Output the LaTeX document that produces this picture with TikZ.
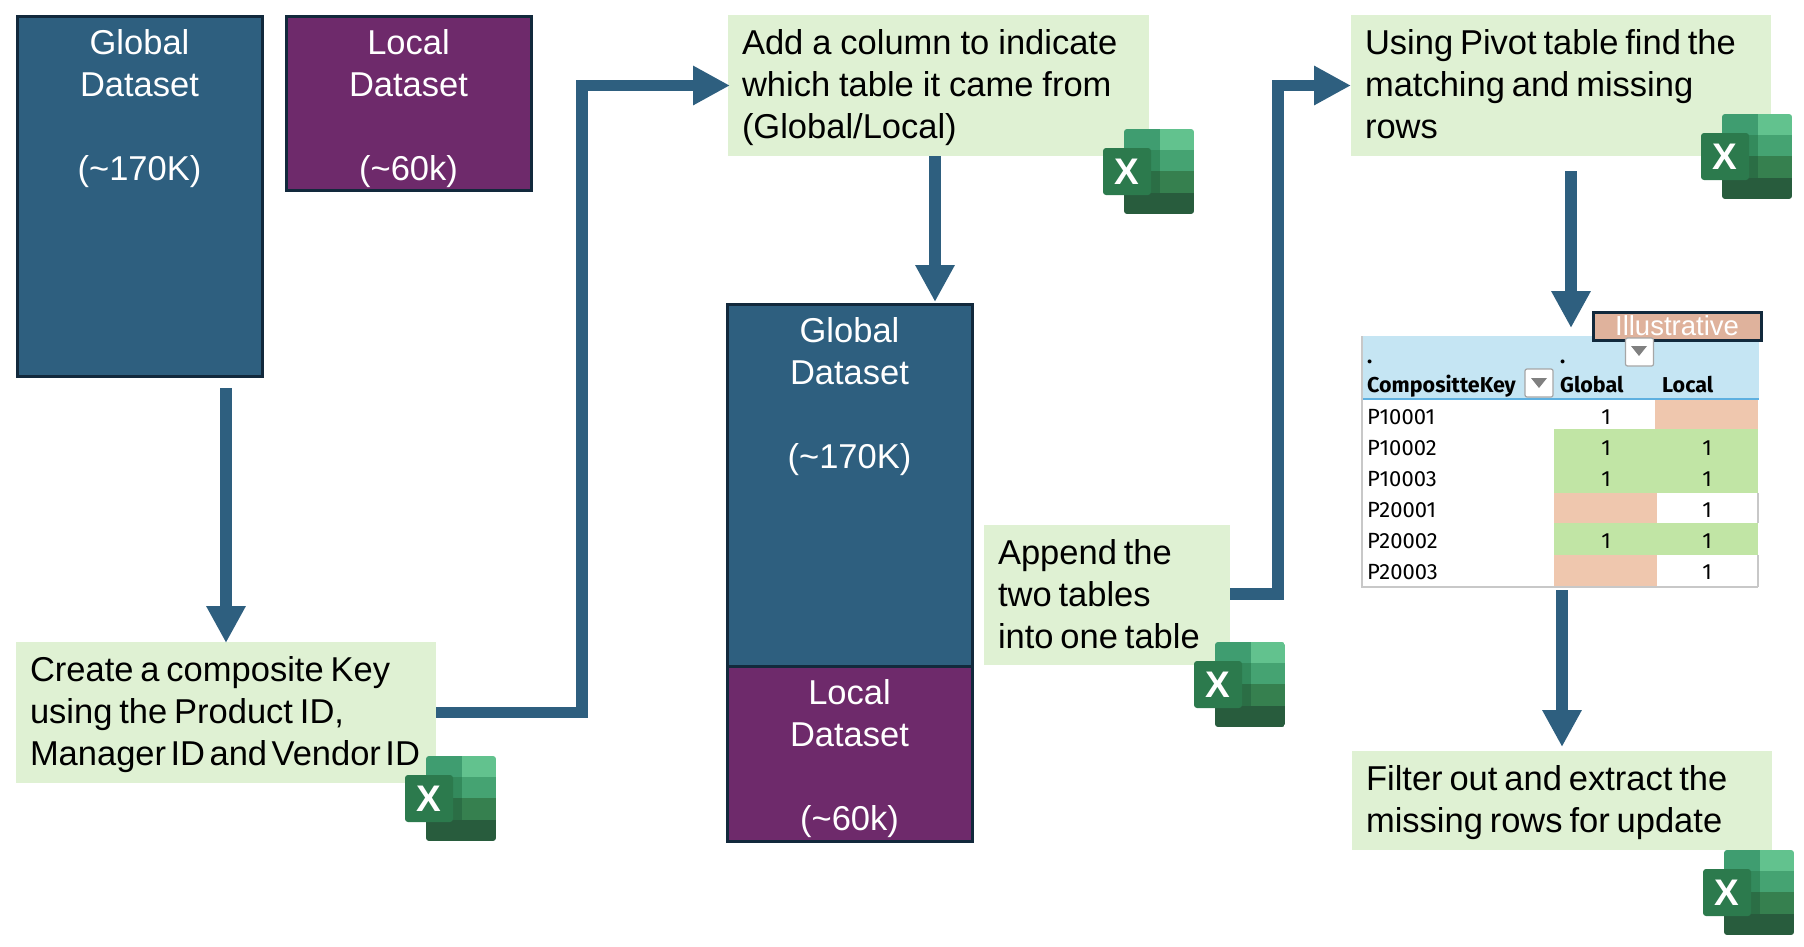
\documentclass[tikz,border=0pt]{standalone}
\usepackage{fontspec}
\setmainfont{Liberation Sans}
\newfontfamily\tblfont{Fira Sans}
\usetikzlibrary{arrows.meta,calc}
\definecolor{dsblue}{HTML}{2E5F7F}
\definecolor{dspurple}{HTML}{6E2A6B}
\definecolor{dsedge}{HTML}{12293C}
\definecolor{stepgreen}{HTML}{DFF1D3}
\definecolor{arrowblue}{HTML}{2E5F7F}
\definecolor{hdrblue}{HTML}{C5E5F3}
\definecolor{hdrline}{HTML}{5EB0E0}
\definecolor{okgreen}{HTML}{C1E5A5}
\definecolor{misspeach}{HTML}{EFC7AE}
\definecolor{illus}{HTML}{DFB29C}
\definecolor{tblgrey}{HTML}{C8C8C8}
\definecolor{xA}{HTML}{3F9D70}\definecolor{xB}{HTML}{62C28E}
\definecolor{xC}{HTML}{338A5C}\definecolor{xD}{HTML}{45A372}
\definecolor{xE}{HTML}{2B6E45}\definecolor{xF}{HTML}{36804F}
\definecolor{xG}{HTML}{285C3D}\definecolor{xH}{HTML}{2C7A4D}
\newcommand{\toptext}[3]{\parbox[c][#1pt][t]{#2pt}{\vspace*{11pt}\centering\fontsize{34.5}{42}\selectfont\color{white}#3\par}}
\newcommand{\xlicon}[3]{%
\begin{scope}[shift={(#2,#3)}]
 \begin{scope}
  \clip[rounded corners=3pt] (21,0) rectangle (91,85);
  \fill[xA] (21,0) rectangle (57,21); \fill[xB] (57,0) rectangle (91,21);
  \fill[xC] (21,21) rectangle (57,42); \fill[xD] (57,21) rectangle (91,42);
  \fill[xE] (21,42) rectangle (57,64); \fill[xF] (57,42) rectangle (91,64);
  \fill[xG] (21,64) rectangle (91,85);
 \end{scope}
 \fill[xH,rounded corners=3pt] (0,19) rectangle (48,66);
 \node[xlmark] (#1) at (24,43) {X};
\end{scope}}
\tikzset{
 x=1pt,y=-1pt,
 xlmark/.style={text=white,font=\fontsize{37}{37}\selectfont\bfseries,inner sep=0pt},
 dataset/.style={draw=dsedge,line width=3pt,inner sep=0pt,outer sep=0pt,anchor=north west},
 stepbox/.style={fill=stepgreen,inner xsep=14pt,inner ysep=0pt,outer sep=0pt,align=left,anchor=north west,font=\fontsize{34.5}{42}\selectfont,
   execute at begin node={\spaceskip=.2em\rule{0pt}{32pt}},execute at end node={\rule[-10pt]{0pt}{10pt}}},
 flow/.style={draw=arrowblue,line width=11.5pt,-{Triangle[width=37pt,length=37pt]}},
 cell/.style={font=\tblfont\fontsize{22}{22}\selectfont,inner sep=0pt,anchor=base west},
 num/.style={font=\tblfont\fontsize{22}{22}\selectfont,inner sep=0pt,anchor=base},
 head/.style={font=\tblfont\bfseries\fontsize{21.5}{21.5}\selectfont,inner sep=0pt,anchor=base west},
 btn/.style={draw=gray!70,fill=white,line width=1.2pt,rounded corners=2pt,minimum width=28pt,minimum height=28pt,inner sep=0pt},
}
\begin{document}
\begin{tikzpicture}
\useasboundingbox (0,0) rectangle (1804,946);
% datasets
\node[dataset,fill=dsblue,minimum width=245pt,minimum height=360pt] (g1) at (17,16) {\toptext{356}{240}{Global\\Dataset\\[42pt](\textasciitilde170K)}};
\node[dataset,fill=dspurple,minimum width=245pt,minimum height=174pt] (l1) at (286,16) {\toptext{170}{240}{Local\\Dataset\\[42pt](\textasciitilde60k)}};
\node[dataset,fill=dsblue,minimum width=245pt,minimum height=362pt] (g2) at (727,304) {\toptext{358}{240}{Global\\Dataset\\[42pt](\textasciitilde170K)}};
\node[dataset,fill=dspurple,minimum width=245pt,minimum height=175pt] (l2) at (727,666) {\toptext{171}{240}{Local\\Dataset\\[42pt](\textasciitilde60k)}};
% steps
\node[stepbox,text width=392pt,minimum height=141pt] (s1) at (16,642) {Create a composite Key\\using the Product ID,\\\mbox{\spaceskip=.13em Manager ID and Vendor ID}};
\node[stepbox,text width=393pt,minimum height=141pt] (s2) at (728,15) {\spaceskip=.26em Add a column to indicate\\which table it came from\\(Global/Local)};
\node[stepbox,text width=218pt,minimum height=140pt] (s3) at (984,525) {Append the\\two tables\\into one table};
\node[stepbox,text width=392pt,minimum height=141pt] (s4) at (1351,15) {Using Pivot table find the\\matching and missing\\rows};
\node[stepbox,text width=392pt,minimum height=99pt] (s5) at (1352,751) {Filter out and extract the\\missing rows for update};
% free ends
\coordinate (a1s) at (226,388); \coordinate (a1e) at (226,643);
\coordinate (a3e) at (935,302);
\coordinate (a4b) at (1278,594);
\coordinate (a5s) at (1571,171); \coordinate (a5e) at (1571,328);
\coordinate (a6s) at (1562,590); \coordinate (a6e) at (1562,747);
% table
\fill[hdrblue] (1361,336) rectangle (1759,399);
\fill[misspeach] (1655,399) rectangle (1758,429);
\fill[okgreen] (1554,429) rectangle (1758,493);
\fill[misspeach] (1554,493) rectangle (1657,523);
\fill[okgreen] (1554,523) rectangle (1758,555);
\fill[misspeach] (1554,555) rectangle (1657,587);
\draw[hdrline,line width=1.5pt] (1362,399) -- (1759,399);
\draw[tblgrey,line width=1.5pt] (1362,336) -- (1362,587) -- (1758,587);
\draw[tblgrey,line width=1.5pt] (1758,493) -- (1758,523) (1758,555) -- (1758,587);
\node[head] (hk) at (1367,392) {CompositteKey};
\node[head] (hg) at (1560,392) {Global};
\node[head] (hl) at (1662,392) {Local};
\node[head] (d1) at (1367,363) {.};
\node[head] (d2) at (1560,363) {.};
\node[cell] (r1) at (1367,424) {P10001}; \node[num] (r1g) at (1606,424) {1};
\node[cell] (r2) at (1367,455) {P10002}; \node[num] (r2g) at (1606,455) {1}; \node[num] (r2l) at (1707,455) {1};
\node[cell] (r3) at (1367,486) {P10003}; \node[num] (r3g) at (1606,486) {1}; \node[num] (r3l) at (1707,486) {1};
\node[cell] (r4) at (1367,517) {P20001}; \node[num] (r4l) at (1707,517) {1};
\node[cell] (r5) at (1367,548) {P20002}; \node[num] (r5g) at (1606,548) {1}; \node[num] (r5l) at (1707,548) {1};
\node[cell] (r6) at (1367,579) {P20003}; \node[num] (r6l) at (1707,579) {1};
\node[draw=dsedge,line width=3pt,fill=illus,text=white,minimum width=168pt,minimum height=28pt,inner sep=0pt,font=\fontsize{27.5}{27.5}\selectfont] (ill) at (1677,326) {Illustrative};
\node[btn] (b1) at (1539,383) {};
\node[btn] (b2) at (1639.5,352) {};
\fill[gray] (1531,378) -- (1547,378) -- (1539,388) -- cycle;
\fill[gray] (1631,346) -- (1647,346) -- (1639,356) -- cycle;
% connectors
\draw[flow] (a1s) -- (a1e);
\draw[flow] (s1.east) -- ++(146,0) |- ($(s2.west)+(2,0)$);
\draw[flow] (s2.south -| a3e) -- (a3e);
\draw[flow] (s3.east |- a4b) -- (a4b) |- (s4.west);
\draw[flow] (a5s) -- (a5e);
\draw[flow] (a6s) -- (a6e);
% icons
\xlicon{x1}{405}{756}
\xlicon{x2}{1103}{129}
\xlicon{x3}{1194}{642}
\xlicon{x4}{1701}{114}
\xlicon{x5}{1703}{850}
\end{tikzpicture}
\end{document}
